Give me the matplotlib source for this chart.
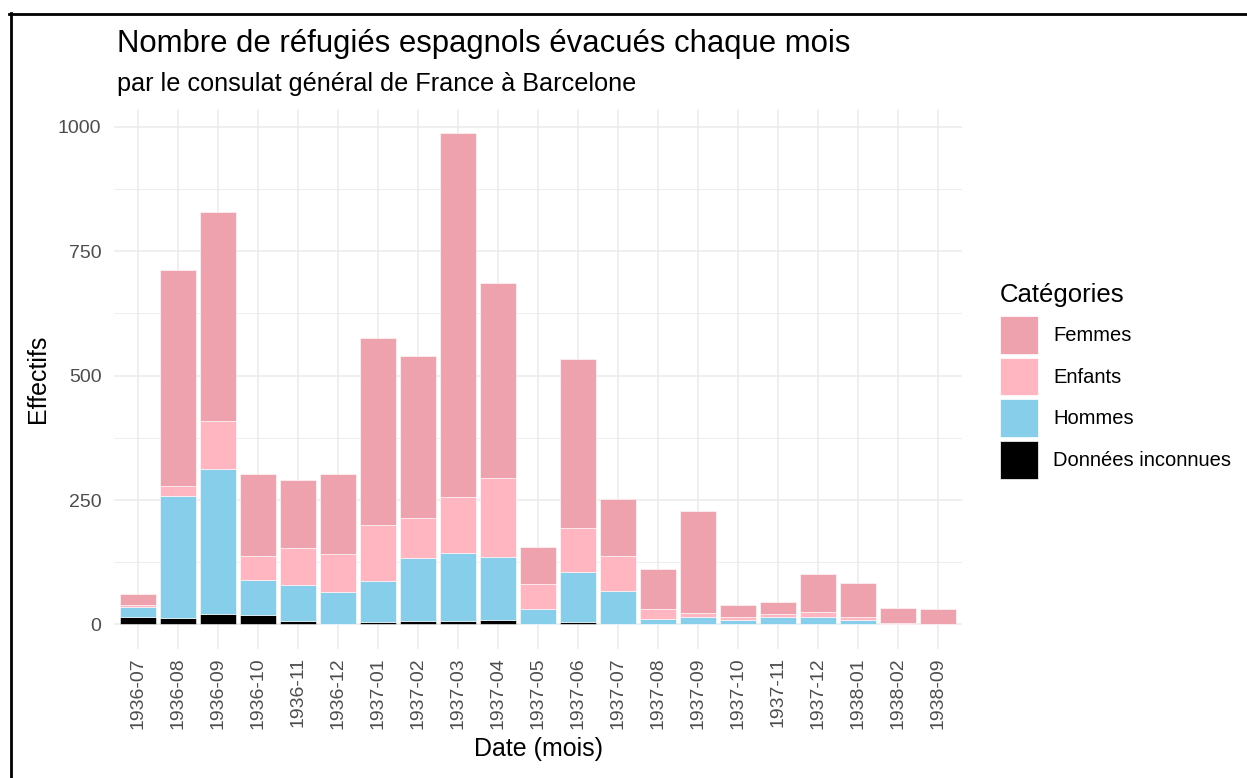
import matplotlib.pyplot as plt
from matplotlib.lines import Line2D
from matplotlib.patches import Patch
from matplotlib.ticker import MultipleLocator

plt.rcParams['font.family'] = ['Liberation Sans', 'DejaVu Sans']

months = ['1936-07', '1936-08', '1936-09', '1936-10', '1936-11', '1936-12',
          '1937-01', '1937-02', '1937-03', '1937-04', '1937-05', '1937-06',
          '1937-07', '1937-08', '1937-09', '1937-10', '1937-11', '1937-12',
          '1938-01', '1938-02', '1938-09']
inconnues = [14, 13, 21, 18, 6, 0, 4, 6, 6, 9, 0, 4, 0, 0, 0, 0, 0, 0, 0, 0, 0]
hommes = [21, 245, 291, 71, 73, 65, 83, 127, 138, 127, 31, 101, 68, 11, 14, 8, 14, 14, 8, 0, 0]
enfants = [5, 21, 97, 49, 75, 76, 113, 81, 113, 158, 50, 88, 70, 20, 10, 7, 7, 12, 6, 2, 0]
femmes = [21, 434, 419, 164, 136, 161, 375, 325, 730, 393, 75, 341, 115, 80, 205, 24, 24, 76, 69, 32, 31]

categories = ['Femmes', 'Enfants', 'Hommes', 'Données inconnues']
colors = {'Femmes': '#EEA2AD', 'Enfants': '#FFB6C1', 'Hommes': '#87CEEB',
          'Données inconnues': '#000000'}

fig = plt.figure(figsize=(12.47, 7.78), dpi=100)
ax = fig.add_axes([0.0914, 0.1658, 0.6801, 0.6944])

x = list(range(len(months)))
bottom = [0] * len(months)
for name, vals in [('Données inconnues', inconnues), ('Hommes', hommes),
                   ('Enfants', enfants), ('Femmes', femmes)]:
    ax.bar(x, vals, width=0.9, bottom=bottom, color=colors[name],
           edgecolor='white', linewidth=0.4, zorder=3)
    bottom = [b + v for b, v in zip(bottom, vals)]

ax.set_xlim(-0.6, len(months) - 0.4)
ax.set_ylim(-49.35, 1036.4)
ax.set_xticks(x)
ax.set_xticklabels(months, rotation=90, fontsize=14, color='#4D4D4D')
ax.yaxis.set_major_locator(MultipleLocator(250))
ax.yaxis.set_minor_locator(MultipleLocator(125))
ax.tick_params(axis='y', labelsize=14, labelcolor='#4D4D4D', pad=9)
ax.tick_params(axis='x', pad=6)
ax.tick_params(length=0, which='both')
ax.grid(True, which='major', color='#EBEBEB', linewidth=1.1, zorder=0)
ax.grid(True, which='minor', axis='y', color='#EBEBEB', linewidth=0.6, zorder=0)
ax.set_axisbelow(True)
for s in ax.spines.values():
    s.set_visible(False)

ax.set_xlabel('Date (mois)', fontsize=18, labelpad=6)
ax.set_ylabel('Effectifs', fontsize=18, labelpad=6)

fig.text(117 / 1247, 1 - 52 / 778, 'Nombre de réfugiés espagnols évacués chaque mois',
         fontsize=22.4, ha='left', va='baseline')
fig.text(117 / 1247, 1 - 91 / 778, 'par le consulat général de France à Barcelone',
         fontsize=18.2, ha='left', va='baseline')

fig.text(1000 / 1247, 1 - 302 / 778, 'Catégories', fontsize=18.5,
         ha='left', va='baseline')
handles = [Patch(facecolor=colors[c], edgecolor='white', linewidth=0.5) for c in categories]
leg = fig.legend(handles, categories, loc='upper left',
                 bbox_to_anchor=(1000 / 1247, 1 - 316 / 778), frameon=False,
                 fontsize=14.5, handlelength=1.9, handleheight=2.5,
                 handletextpad=0.75, labelspacing=0.2, borderpad=0,
                 borderaxespad=0)

# black frame on top and left edges
fig.add_artist(Line2D([9 / 1247, 1], [1 - 13.5 / 778] * 2, color='black', linewidth=2))
fig.add_artist(Line2D([10.5 / 1247] * 2, [0, 1 - 13 / 778], color='black', linewidth=2))

fig.savefig('out.png', dpi=100)
